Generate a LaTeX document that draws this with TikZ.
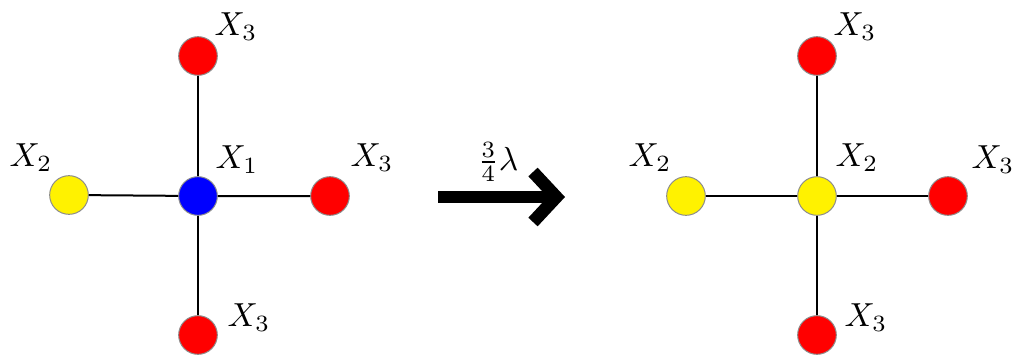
\documentclass[tikz,border=0pt]{standalone}
\usetikzlibrary{arrows.meta}
\tikzset{
  site/.style={circle,draw=black!45,line width=0.3pt,minimum size=11.6pt,inner sep=0pt},
  bond/.style={line width=0.6pt},
}
\begin{document}
\begin{tikzpicture}[x=0.3pt,y=-0.3pt]
 \useasboundingbox (0,0) rectangle (1014,359);
 % before
 \begin{scope}
  \node[site,fill=blue] (c) at (198,196) {};
  \node[site,fill=red] (t) at (198,56) {};
  \node[site,fill=red] (b) at (198,335) {};
  \node[site,fill=yellow] (l) at (69,195) {};
  \node[site,fill=red] (r) at (330,196) {};
  \draw[bond] (t) -- (c) -- (b);
  \draw[bond] (l) -- (c) -- (r);
  \node (tl) at (236,27) {$X_{3}$};
  \node (cl) at (237,160) {$X_{1}$};
  \node (ll) at (31,158) {$X_{2}$};
  \node (rl) at (372,158) {$X_{3}$};
  \node (bl) at (249,318) {$X_{3}$};
 \end{scope}
 % rate arrow
 \coordinate (a0) at (438,197);
 \coordinate (a1) at (565,197);
 \draw[line width=3.8pt,-{Straight Barb[length=7pt,width=15pt]}] (a0) -- (a1);
 \node (rate) at (498,162) {$\frac{3}{4}\lambda$};
 % after
 \begin{scope}[xshift=619*0.3pt]
  \node[site,fill=yellow] (c') at (198,196) {};
  \node[site,fill=red] (t') at (198,56) {};
  \node[site,fill=red] (b') at (198,335) {};
  \node[site,fill=yellow] (l') at (67,196) {};
  \node[site,fill=red] (r') at (329,196) {};
  \draw[bond] (t') -- (c') -- (b');
  \draw[bond] (l') -- (c') -- (r');
  \node (tl') at (236,27) {$X_{3}$};
  \node (cl') at (238,158) {$X_{2}$};
  \node (ll') at (31,158) {$X_{2}$};
  \node (rl') at (374,160) {$X_{3}$};
  \node (bl') at (247,318) {$X_{3}$};
 \end{scope}
\end{tikzpicture}
\end{document}
